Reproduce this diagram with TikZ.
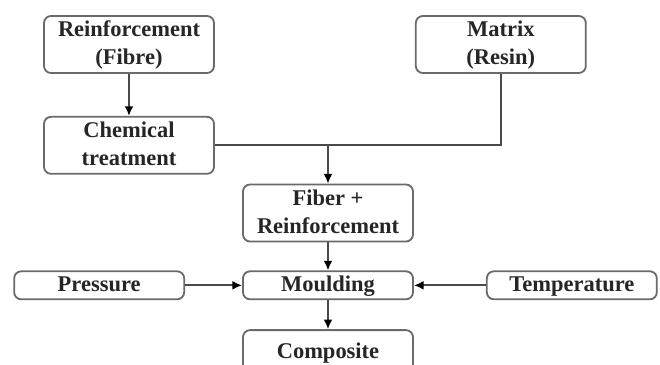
\documentclass[tikz,border=0pt]{standalone}
\usepackage{fontspec}
\setmainfont{Liberation Serif}
\usepackage{tikz}
\usetikzlibrary{positioning,arrows.meta}
\definecolor{boxgrey}{HTML}{6A6A6A}
\definecolor{linegrey}{HTML}{4A4A4A}
\definecolor{textgrey}{HTML}{262626}

\begin{document}
\begin{tikzpicture}[node distance={7mm}, line width=1.3pt,
        main/.style = {draw=boxgrey, rounded corners=5pt, minimum width=4.25cm, minimum height=0.7cm,
            inner sep=1pt, align=center, text=textgrey, text depth=0.5ex, font=\fontsize{16}{20}\selectfont\bfseries},
        tall/.style = {main, minimum height=1.425cm},
        flow/.style = {draw=linegrey, -{Latex[length=2.4mm,width=2.2mm,fill=black,color=black]}}]
            \useasboundingbox (0,0) rectangle (16.5,9.125);
            \clip (0,0) rectangle (16.5,9.125);
            \node[tall] (reinf) at (3.225,8.0125) {Reinforcement\\(Fibre)};
            \node[tall] (chem) [below=1.05cm of reinf] {Chemical\\treatment};
            \node[tall] (matrix) [right=5cm of reinf] {Matrix\\(Resin)};
            \node[tall] (fiber) at (8.2,3.8) {Fiber +\\Reinforcement};
            \node[main] (mould) [below=of fiber] {Moulding};
            \node[main, minimum height=1.1cm, anchor=north] (comp) at ([yshift=-7.25mm]mould.south) {Composite};
            \node[main] (press) [left=1.425cm of mould] {Pressure};
            \node[main] (temp) [right=1.8cm of mould] {Temperature};
            \coordinate (join) at (fiber.north |- chem.east);
            \draw[flow] (reinf) -- (chem);
            \draw[draw=linegrey] (chem.east) -- (join);
            \draw[draw=linegrey] (matrix.south) |- (join);
            \draw[flow] (join) -- (fiber);
            \draw[flow] (fiber) -- (mould);
            \draw[flow] (mould) -- (comp);
            \draw[flow] (press) -- (mould);
            \draw[flow] (temp) -- (mould);
        \end{tikzpicture}
\end{document}
